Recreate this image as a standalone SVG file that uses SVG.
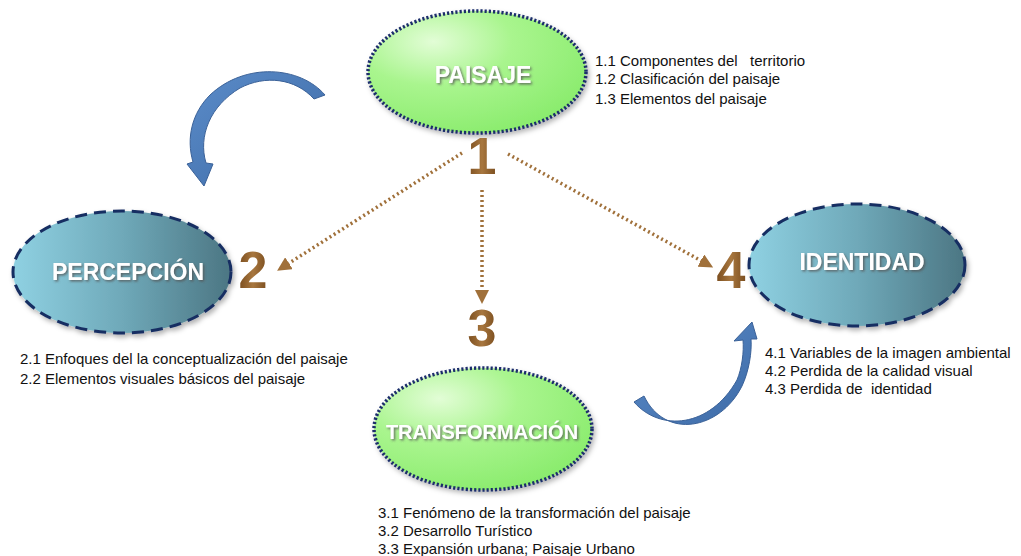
<svg xmlns="http://www.w3.org/2000/svg" width="1021" height="556" viewBox="0 0 1021 556">
<defs>
<radialGradient id="gGreen" cx="0.3" cy="0.25" r="0.8">
<stop offset="0" stop-color="#e2fdd6"/>
<stop offset="0.45" stop-color="#a9f58e"/>
<stop offset="1" stop-color="#8bec6e"/>
</radialGradient>
<linearGradient id="gBlue" x1="0" y1="0" x2="1" y2="0">
<stop offset="0" stop-color="#8fd1e2"/>
<stop offset="0.5" stop-color="#6fa9b9"/>
<stop offset="1" stop-color="#4c7683"/>
</linearGradient>
<linearGradient id="gNum" x1="0" y1="0" x2="1" y2="0">
<stop offset="0" stop-color="#7a4d1e"/>
<stop offset="0.5" stop-color="#a8773f"/>
<stop offset="1" stop-color="#7a4d1e"/>
</linearGradient>
<linearGradient id="gArrow" x1="0" y1="0" x2="1" y2="1">
<stop offset="0" stop-color="#5b8cc9"/>
<stop offset="1" stop-color="#3d6aa6"/>
</linearGradient>
<filter id="tshadow" x="-10%" y="-30%" width="120%" height="160%">
<feDropShadow dx="1.5" dy="1.5" stdDeviation="1" flood-color="#555" flood-opacity="0.8"/>
</filter>
<filter id="eshadow" x="-10%" y="-10%" width="125%" height="130%">
<feDropShadow dx="2" dy="3" stdDeviation="2.5" flood-color="#000" flood-opacity="0.3"/>
</filter>
<marker id="ah" viewBox="0 0 10 10" refX="5" refY="5" markerWidth="4" markerHeight="4" orient="auto">
<path d="M0,0 L10,5 L0,10 z" fill="#a0703a"/>
</marker>
</defs>
<style>
.green{fill:url(#gGreen);stroke:#1c2f6b;stroke-width:3.5;stroke-dasharray:2.2 2;filter:url(#eshadow)}
.blue{fill:url(#gBlue);stroke:#182e62;stroke-width:3;stroke-dasharray:12 7;filter:url(#eshadow)}
.lbl{font-family:"Liberation Sans",Arial,sans-serif;font-weight:bold;fill:#ffffff;text-anchor:middle;filter:url(#tshadow)}
.num{font-family:"Liberation Sans",Arial,sans-serif;font-weight:bold;font-size:52px;fill:url(#gNum);text-anchor:middle}
.sub{font-family:"Liberation Sans",Arial,sans-serif;font-size:15px;fill:#111;white-space:pre}
.dot{stroke:#a0703a;stroke-width:3.5;stroke-dasharray:2 3;fill:none;marker-end:url(#ah)}
.arrow{fill:url(#gArrow);stroke:#3a6198;stroke-width:1}
</style>

<g id="connectors">
<line class="dot" x1="462" y1="153" x2="283" y2="267"/>
<line class="dot" x1="482" y1="190" x2="482" y2="297"/>
<line class="dot" x1="508" y1="154" x2="707" y2="264"/>
<path class="arrow" d="M325,95 C300,66 245,62 210,95 C192,113 186,138 193,162 L187,164 L204,186 L213,164 L206,163 C198,136 210,106 240,88 C265,75 295,78 314,99 Z"/>
<path class="arrow" d="M634,402 C660,432 710,428 737,380 C742,368 744,352 743,340 L734,341 L752,322 L757,339 L751,339 C752,352 749,371 742,386 C720,430 665,440 644,396 Z"/>
</g>

<g id="paisaje">
<ellipse class="green" cx="477" cy="72" rx="109" ry="61"/>
<text class="lbl" x="483" y="83" font-size="23">PAISAJE</text>
<text class="num" x="482" y="174">1</text>
<text class="sub" x="595" y="66" xml:space="preserve">1.1 Componentes del   territorio</text>
<text class="sub" x="595" y="84">1.2 Clasificación del paisaje</text>
<text class="sub" x="595" y="104">1.3 Elementos del paisaje</text>
</g>

<g id="percepcion">
<ellipse class="blue" cx="122" cy="272" rx="109" ry="61"/>
<text class="lbl" x="128" y="280" font-size="23">PERCEPCIÓN</text>
<text class="num" x="253" y="288">2</text>
<text class="sub" x="20" y="364">2.1 Enfoques del la conceptualización del paisaje</text>
<text class="sub" x="20" y="384">2.2 Elementos visuales básicos del paisaje</text>
</g>

<g id="transformacion">
<ellipse class="green" cx="483" cy="429" rx="109" ry="61"/>
<text class="lbl" x="482" y="439" font-size="20">TRANSFORMACIÓN</text>
<text class="num" x="482" y="346">3</text>
<text class="sub" x="378" y="518">3.1 Fenómeno de la transformación del paisaje</text>
<text class="sub" x="378" y="536">3.2 Desarrollo Turístico</text>
<text class="sub" x="378" y="554">3.3 Expansión urbana; Paisaje Urbano</text>
</g>

<g id="identidad">
<ellipse class="blue" cx="857" cy="265" rx="108" ry="61"/>
<text class="lbl" x="862" y="270" font-size="23">IDENTIDAD</text>
<text class="num" x="731" y="288">4</text>
<text class="sub" x="765" y="358">4.1 Variables de la imagen ambiental</text>
<text class="sub" x="765" y="376">4.2 Perdida de la calidad visual</text>
<text class="sub" x="765" y="394" xml:space="preserve">4.3 Perdida de  identidad</text>
</g>
</svg>
